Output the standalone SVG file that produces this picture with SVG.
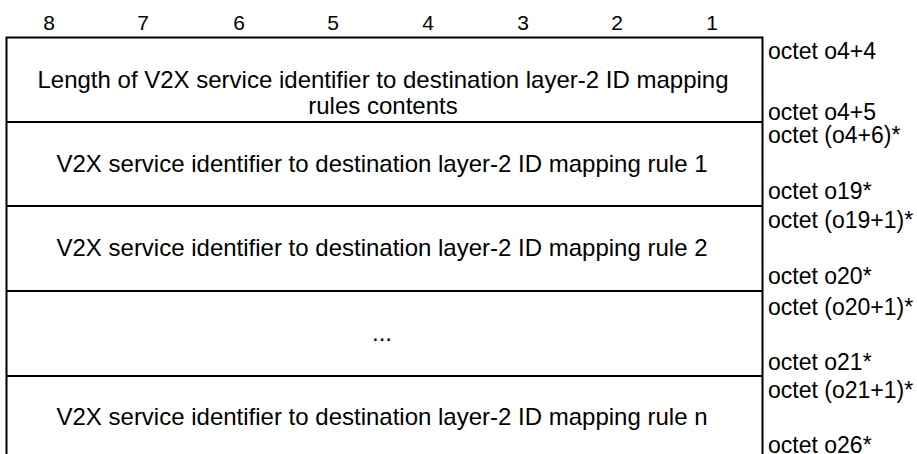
<svg xmlns="http://www.w3.org/2000/svg" width="917" height="454" viewBox="0 0 917 454">
<style>
text{font-family:"Liberation Sans",Arial,sans-serif;fill:#000}
.hd{font-size:21px;text-anchor:middle}
.fld{font-size:24px;text-anchor:middle}
.oct{font-size:23px}
.ln{stroke:#000;stroke-width:2;fill:none}
</style>
<rect width="917" height="454" fill="#fff"/>
<g id="header">
<text class="hd" x="49" y="30">8</text>
<text class="hd" x="143" y="30">7</text>
<text class="hd" x="239" y="30">6</text>
<text class="hd" x="333" y="30">5</text>
<text class="hd" x="428" y="30">4</text>
<text class="hd" x="523" y="30">3</text>
<text class="hd" x="617" y="30">2</text>
<text class="hd" x="712" y="30">1</text>
</g>
<g id="frame">
<path class="ln" d="M6.5,460 V37.5 H762.5 V460"/>
</g>
<g id="row-length">
<path class="ln" d="M6.5,122 H762.5"/>
<text class="fld" x="383" y="88">Length of V2X service identifier to destination layer-2 ID mapping</text>
<text class="fld" x="383" y="114">rules contents</text>
<text class="oct" x="768" y="59">octet o4+4</text>
<text class="oct" x="768" y="120">octet o4+5</text>
</g>
<g id="row-rule1">
<path class="ln" d="M6.5,206 H762.5"/>
<text class="fld" x="382" y="172">V2X service identifier to destination layer-2 ID mapping rule 1</text>
<text class="oct" x="768" y="143">octet (o4+6)*</text>
<text class="oct" x="768" y="199">octet o19*</text>
</g>
<g id="row-rule2">
<path class="ln" d="M6.5,291 H762.5"/>
<text class="fld" x="382" y="256">V2X service identifier to destination layer-2 ID mapping rule 2</text>
<text class="oct" x="768" y="228">octet (o19+1)*</text>
<text class="oct" x="768" y="284">octet o20*</text>
</g>
<g id="row-dots">
<path class="ln" d="M6.5,376 H762.5"/>
<text class="fld" x="382" y="341">...</text>
<text class="oct" x="768" y="315">octet (o20+1)*</text>
<text class="oct" x="768" y="370">octet o21*</text>
</g>
<g id="row-rulen">
<text class="fld" x="382" y="425">V2X service identifier to destination layer-2 ID mapping rule n</text>
<text class="oct" x="768" y="398">octet (o21+1)*</text>
<text class="oct" x="768" y="453">octet o26*</text>
</g>
</svg>
